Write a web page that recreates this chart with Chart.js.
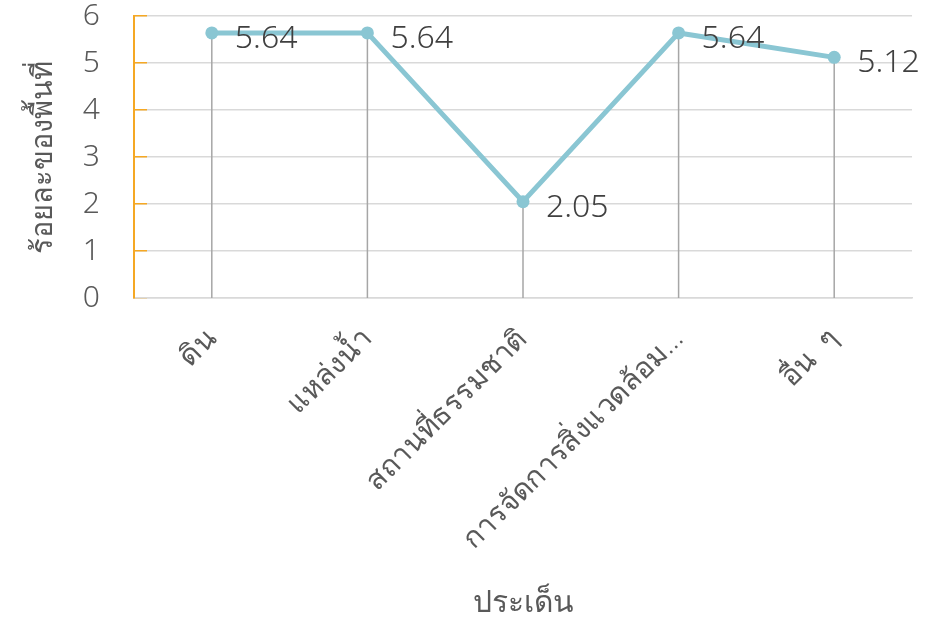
<!DOCTYPE html>
<html>
<head>
  <meta charset="utf-8">
  <title>ร้อยละของพื้นที่</title>
  <script src="https://cdn.jsdelivr.net/npm/chart.js"></script>
  <style>
    html, body { margin: 0; padding: 0; background: #fff; }
    #wrap { width: 938px; height: 621px; }
  </style>
</head>
<body>
  <div id="wrap"><canvas id="myChart"></canvas></div>

  <script>
    // ข้อมูล
    const categories = ['ดิน', 'แหล่งน้ำ', 'สถานที่ธรรมชาติ', 'การจัดการสิ่งแวดล้อม...', 'อื่น  ๆ']
    const values = [5.64, 5.64, 2.05, 5.64, 5.12]
    const yTicks = [0, 1, 2, 3, 4, 5, 6]
    const xTitle = 'ประเด็น'
    const yTitle = 'ร้อยละของพื้นที่'

    const FONT = "'Noto Sans', 'DejaVu Sans', sans-serif"
    const lineColor = 'rgb(138, 198, 211)'
    const orange = 'rgb(245, 168, 36)'

    // เส้นตั้งจากจุดลงแกน x
    const dropLines = {
      id: 'dropLines',
      beforeDatasetsDraw(chart) {
        const ctx = chart.ctx
        const bottom = chart.scales.y.getPixelForValue(0)
        ctx.save()
        ctx.strokeStyle = '#a6a6a6'
        ctx.lineWidth = 1.5
        chart.getDatasetMeta(0).data.forEach(p => {
          ctx.beginPath()
          ctx.moveTo(p.x, p.y)
          ctx.lineTo(p.x, bottom)
          ctx.stroke()
        })
        ctx.restore()
      }
    }

    // ป้ายค่า
    const valueLabels = {
      id: 'valueLabels',
      afterDatasetsDraw(chart) {
        const ctx = chart.ctx
        ctx.save()
        ctx.font = '300 32px ' + FONT
        ctx.fillStyle = '#404040'
        ctx.textAlign = 'left'
        ctx.textBaseline = 'middle'
        chart.getDatasetMeta(0).data.forEach((p, i) => {
          ctx.fillText(String(values[i]), p.x + 23, p.y + 6)
        })
        ctx.restore()
      }
    }

    const ctx = document.getElementById('myChart').getContext('2d')

    new Chart(ctx, {
      type: 'line',
      data: {
        labels: categories,
        datasets: [{
          data: values,
          borderColor: lineColor,
          backgroundColor: lineColor,
          borderWidth: 5,
          pointRadius: 6.5,
          pointHoverRadius: 6.5,
          pointBorderWidth: 0,
          tension: 0,
          fill: false
        }]
      },
      plugins: [dropLines, valueLabels],
      options: {
        responsive: true,
        maintainAspectRatio: false,
        animation: false,
        layout: { padding: { top: 0, right: 26, bottom: 0, left: 0 } },
        plugins: {
          legend: { display: false },
          tooltip: { enabled: false }
        },
        scales: {
          x: {
            offset: true,
            grid: { display: false, drawTicks: false },
            border: { display: true, color: '#d9d9d9', width: 1.5 },
            ticks: {
              color: '#595959',
              font: { family: FONT, size: 29, weight: 300 },
              minRotation: 45,
              maxRotation: 45,
              padding: 24,
              autoSkip: false
            },
            title: {
              display: true,
              text: xTitle,
              color: '#595959',
              font: { family: FONT, size: 30, weight: 300 },
              padding: { top: 0, bottom: 0 }
            },
            afterFit(scale) { scale.height = 323 }
          },
          y: {
            min: 0,
            max: 6,
            afterBuildTicks(scale) { scale.ticks = yTicks.map(v => ({ value: v })) },
            grid: {
              color: '#d9d9d9',
              lineWidth: 1.5,
              tickColor: orange,
              tickLength: -13
            },
            border: { display: true, color: orange, width: 2 },
            ticks: {
              color: '#595959',
              font: { family: FONT, size: 30, weight: 300 },
              padding: 47
            },
            title: {
              display: true,
              text: yTitle,
              color: '#595959',
              font: { family: FONT, size: 29, weight: 300 },
              padding: { top: 26, bottom: 0 }
            },
            afterFit(scale) {
              scale.width = 134
              scale.paddingTop = 16
            }
          }
        }
      }
    })
  </script>
</body>
</html>
